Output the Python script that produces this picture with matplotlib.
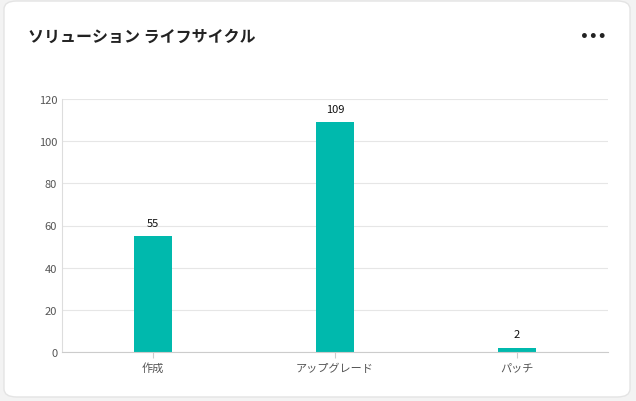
import matplotlib.pyplot as plt
from matplotlib.patches import FancyBboxPatch

categories = ["作成", "アップグレード", "パッチ"]
values = [55, 109, 2]
y_ticks = [0, 20, 40, 60, 80, 100, 120]

plt.rcParams["font.family"] = "Noto Sans CJK JP"

fig = plt.figure(figsize=(6.36, 4.02), dpi=100)
fig.patch.set_facecolor("#f3f3f3")
card = FancyBboxPatch((4 / 636, 0.01), 626 / 636, 0.985, boxstyle="round,pad=0,rounding_size=0.02",
                      transform=fig.transFigure, facecolor="white", edgecolor="#e4e4e4", lw=1,
                      zorder=-10)
fig.patches.append(card)

fig.text(28 / 636, 1 - 37 / 402, "ソリューション ライフサイクル", fontsize=11.5, fontweight="bold",
         va="center", color="#222222")
fig.text(593 / 636, 1 - 37 / 402, "•••", fontsize=10, fontweight="bold", va="center", ha="center",
         color="#222222", fontfamily="DejaVu Sans")

ax = fig.add_axes([62 / 636, 1 - 353 / 402, 546 / 636, 253 / 402])
ax.patch.set_alpha(0)
x = range(len(categories))
bars = ax.bar(x, values, width=0.21, color="#00b9ad")
for b, v in zip(bars, values):
    ax.text(b.get_x() + b.get_width() / 2, v + 4, str(v), ha="center", va="bottom", fontsize=8, color="#111111")

ax.set_xlim(-0.5, 2.5)
ax.set_ylim(0, 120)
ax.set_yticks(y_ticks)
ax.set_xticks(list(x))
ax.set_xticklabels(categories)
ax.tick_params(axis="both", labelsize=8, colors="#555555", length=0)
ax.tick_params(axis="x", length=4, color="#cccccc")
ax.grid(axis="y", color="#e6e6e6", lw=0.8)
ax.set_axisbelow(True)
for s in ["top", "right"]:
    ax.spines[s].set_visible(False)
ax.spines["left"].set_color("#dddddd")
ax.spines["bottom"].set_color("#cccccc")

fig.savefig("out.png", dpi=100)
